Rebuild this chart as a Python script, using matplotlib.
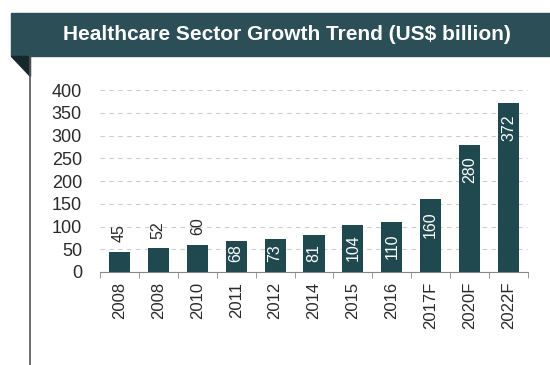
import matplotlib.pyplot as plt
from matplotlib.patches import Rectangle, Polygon
from matplotlib.lines import Line2D

years = ["2008", "2008", "2010", "2011", "2012", "2014", "2015", "2016",
         "2017F", "2020F", "2022F"]
values = [45, 52, 60, 68, 73, 81, 104, 110, 160, 280, 372]

bar_color = "#1f484f"
banner_color = "#2b4e57"

plt.rcParams['font.family'] = ['Liberation Sans', 'DejaVu Sans']

fig = plt.figure(figsize=(5.5, 3.65), dpi=100)

# title banner with folded corner and side rule
fig.patches.append(Rectangle((11/550, 1 - 56/365), 1 - 11/550, 43/365,
                             transform=fig.transFigure, color=banner_color))
fig.patches.append(Polygon([(11/550, 1 - 56/365), (30/550, 1 - 56/365),
                            (30/550, 1 - 76/365)], closed=True,
                           transform=fig.transFigure, color="#16282c"))
fig.lines.append(Line2D([29.5/550, 29.5/550], [0, 1 - 56/365],
                        transform=fig.transFigure, color="#555555", lw=1.2))
fig.text(287/550, 1 - 35/365, "Healthcare Sector Growth Trend (US$ billion)",
         color="white", fontsize=15, fontweight="bold", ha="center", va="center")

ax = fig.add_axes([100/550, 1 - 272/365, 428/550, 182/365])
x = range(len(values))
bars = ax.bar(x, values, width=0.54, color=bar_color, zorder=3)

ax.set_xlim(-0.5, len(values) - 0.5)
ax.set_ylim(0, 400)
ax.set_yticks(range(0, 401, 50))
ax.grid(axis="y", linestyle=(0, (4, 4)), color="#cccccc", lw=0.8, zorder=0)
for s in ["top", "right", "left"]:
    ax.spines[s].set_visible(False)
ax.spines["bottom"].set_color("#888888")
ax.tick_params(axis="y", length=0, labelsize=13, pad=13, labelcolor="#2a2a2a")

# ticks between categories
ax.set_xticks([i - 0.5 for i in range(len(values) + 1)], minor=True)
ax.tick_params(axis="x", which="minor", length=4, color="#888888")
ax.set_xticks(list(x))
ax.set_xticklabels(years, rotation=90, fontsize=12, color="#2a2a2a")
ax.tick_params(axis="x", which="major", length=0, pad=7)

# labels: above short bars, inside near the top otherwise,
# pushed up so they keep clear of the baseline
for i, v in enumerate(values):
    if v < 65:
        ax.annotate(str(v), (i, v), xytext=(0, 7), textcoords="offset points",
                    rotation=90, ha="center", va="bottom",
                    fontsize=11.5, color="#2a2a2a")
    else:
        label_len = len(str(v)) * 20
        top = max(v - 26, 22 + label_len)
        ax.text(i, top, str(v), rotation=90, ha="center", va="top",
                fontsize=11.5, color="white")

fig.savefig("out.png", dpi=100)
